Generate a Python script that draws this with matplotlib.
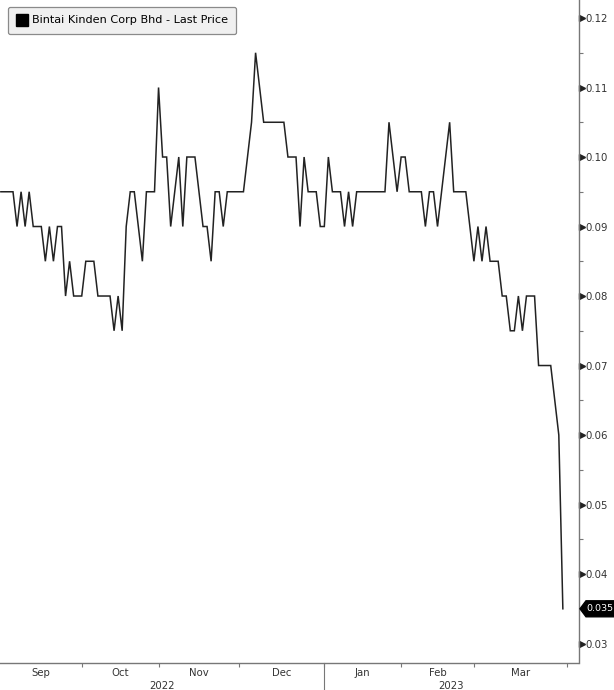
import matplotlib
matplotlib.use("Agg")
import matplotlib.pyplot as plt
from matplotlib.lines import Line2D
from matplotlib.patches import Polygon
from matplotlib.transforms import IdentityTransform, blended_transform_factory
import numpy as np

# ---- data (trading-day index -> last price) ----
series_name = "Bintai Kinden Corp Bhd - Last Price"
prices = [
    0.095, 0.095, 0.095, 0.095, 0.090, 0.095, 0.090, 0.095, 0.090, 0.090,   # 0-9
    0.090, 0.085, 0.090, 0.085, 0.090, 0.090, 0.080, 0.085, 0.080, 0.080,   # 10-19
    0.080, 0.085, 0.085, 0.085, 0.080, 0.080, 0.080, 0.080, 0.075, 0.080,   # 20-29
    0.075, 0.090, 0.095, 0.095, 0.090, 0.085, 0.095, 0.095, 0.095, 0.110,   # 30-39
    0.100, 0.100, 0.090, 0.095, 0.100, 0.090, 0.100, 0.100, 0.100, 0.095,   # 40-49
    0.090, 0.090, 0.085, 0.095, 0.095, 0.090, 0.095, 0.095, 0.095, 0.095,   # 50-59
    0.095, 0.100, 0.105, 0.115, 0.110, 0.105, 0.105, 0.105, 0.105, 0.105,   # 60-69
    0.105, 0.100, 0.100, 0.100, 0.090, 0.100, 0.095, 0.095, 0.095, 0.090,   # 70-79
    0.090, 0.100, 0.095, 0.095, 0.095, 0.090, 0.095, 0.090, 0.095, 0.095,   # 80-89
    0.095, 0.095, 0.095, 0.095, 0.095, 0.095, 0.105, 0.100, 0.095, 0.100,   # 90-99
    0.100, 0.095, 0.095, 0.095, 0.095, 0.090, 0.095, 0.095, 0.090, 0.095,   # 100-109
    0.100, 0.105, 0.095, 0.095, 0.095, 0.095, 0.090, 0.085, 0.090, 0.085,   # 110-119
    0.090, 0.085, 0.085, 0.085, 0.080, 0.080, 0.075, 0.075, 0.080, 0.075,   # 120-129
    0.080, 0.080, 0.080, 0.070, 0.070, 0.070, 0.070, 0.065, 0.060, 0.035,   # 130-139
]
month_ticks = [20, 39, 59, 80, 99, 117, 140]          # first trading day of each month
month_labels = ["Sep", "Oct", "Nov", "Dec", "Jan", "Feb", "Mar"]
year_break = 80
year_labels = ["2022", "2023"]
y_ticks = [0.03, 0.04, 0.05, 0.06, 0.07, 0.08, 0.09, 0.10, 0.11, 0.12]
y_minor = [0.035, 0.045, 0.055, 0.065, 0.075, 0.085, 0.095, 0.105, 0.115]

W, H = 614, 690
fig = plt.figure(figsize=(W / 100, H / 100), dpi=100)
ax_right = 578.5
ax_bottom = 663
ax = fig.add_axes([0, 1 - ax_bottom / H, ax_right / W, ax_bottom / H])

x = np.arange(len(prices))
ax.plot(x, prices, color="#222222", lw=1.1, solid_joinstyle="miter")

xmin, xmax = -0.215, 142.87
ax.set_xlim(xmin, xmax)
ax.set_ylim(0.0272, 0.12259)

FS = 7.3
GRAY = "#777777"
TXT = "#333333"

for s in ["top", "left"]:
    ax.spines[s].set_visible(False)
for s in ["bottom", "right"]:
    ax.spines[s].set_color(GRAY)
    ax.spines[s].set_linewidth(1.0)

# y axis on the right
ax.yaxis.tick_right()
ax.set_yticks(y_ticks)
ax.set_yticklabels([f"{v:.2f}" for v in y_ticks])
ax.set_yticks(y_minor, minor=True)
ax.tick_params(axis="y", which="major", length=0, pad=5.0, labelsize=FS, labelcolor=TXT)
ax.tick_params(axis="y", which="minor", length=3, width=0.8, color=GRAY, direction="out")
ytr = blended_transform_factory(ax.transAxes, ax.transData)
ax.plot([1.0 + 3.5 / ax_right] * len(y_ticks), y_ticks, linestyle="none", marker=">",
        markersize=4.5, color="#222222", transform=ytr, clip_on=False)

# x axis: month boundary ticks + centred labels
ax.set_xticks(month_ticks)
ax.set_xticklabels([])
edges = [xmin] + month_ticks
centers = [(edges[i] + edges[i + 1]) / 2 for i in range(len(month_labels))]
ax.set_xticks(centers, minor=True)
ax.set_xticklabels(month_labels, minor=True)
ax.tick_params(axis="x", which="major", length=3, width=0.8, color=GRAY, direction="out")
ax.tick_params(axis="x", which="minor", length=0, pad=3.6, labelsize=FS, labelcolor=TXT)

xtr = blended_transform_factory(ax.transData, ax.transAxes)
ax.plot([year_break, year_break], [0, -(H - ax_bottom) / ax_bottom], color=GRAY, lw=0.8,
        transform=xtr, clip_on=False)
ycen = -23 / ax_bottom
ax.text((xmin + year_break) / 2, ycen, year_labels[0], transform=xtr, ha="center", va="center",
        fontsize=FS, color=TXT)
ax.text((year_break + xmax) / 2, ycen, year_labels[1], transform=xtr, ha="center", va="center",
        fontsize=FS, color=TXT)

# last-price tag
last = prices[-1]
px, py = ax.transData.transform((xmax, last))
x0 = px + 1.5
poly = Polygon([[x0, py], [x0 + 6, py + 8], [x0 + 60, py + 8], [x0 + 60, py - 8], [x0 + 6, py - 8]],
               closed=True, facecolor="black", edgecolor="black", transform=IdentityTransform(),
               figure=fig)
fig.patches.append(poly)
fig.text((x0 + 6.5) / W, py / H, f"{last:.3f}", color="white", fontsize=6.8, ha="left", va="center")

# legend
handle = Line2D([], [], marker="s", color="black", linestyle="none", markersize=8)
leg = ax.legend([handle], [series_name], loc="upper left",
                bbox_to_anchor=(8 / ax_right, 1 - 7 / ax_bottom), borderaxespad=0,
                fontsize=8.1, frameon=True, fancybox=True, framealpha=1,
                facecolor="#f0f0f0", edgecolor="#8a8a8a", handlelength=0.9,
                handletextpad=0.45, borderpad=0.75)
leg.get_frame().set_linewidth(0.9)

fig.savefig("out.png", dpi=100)
